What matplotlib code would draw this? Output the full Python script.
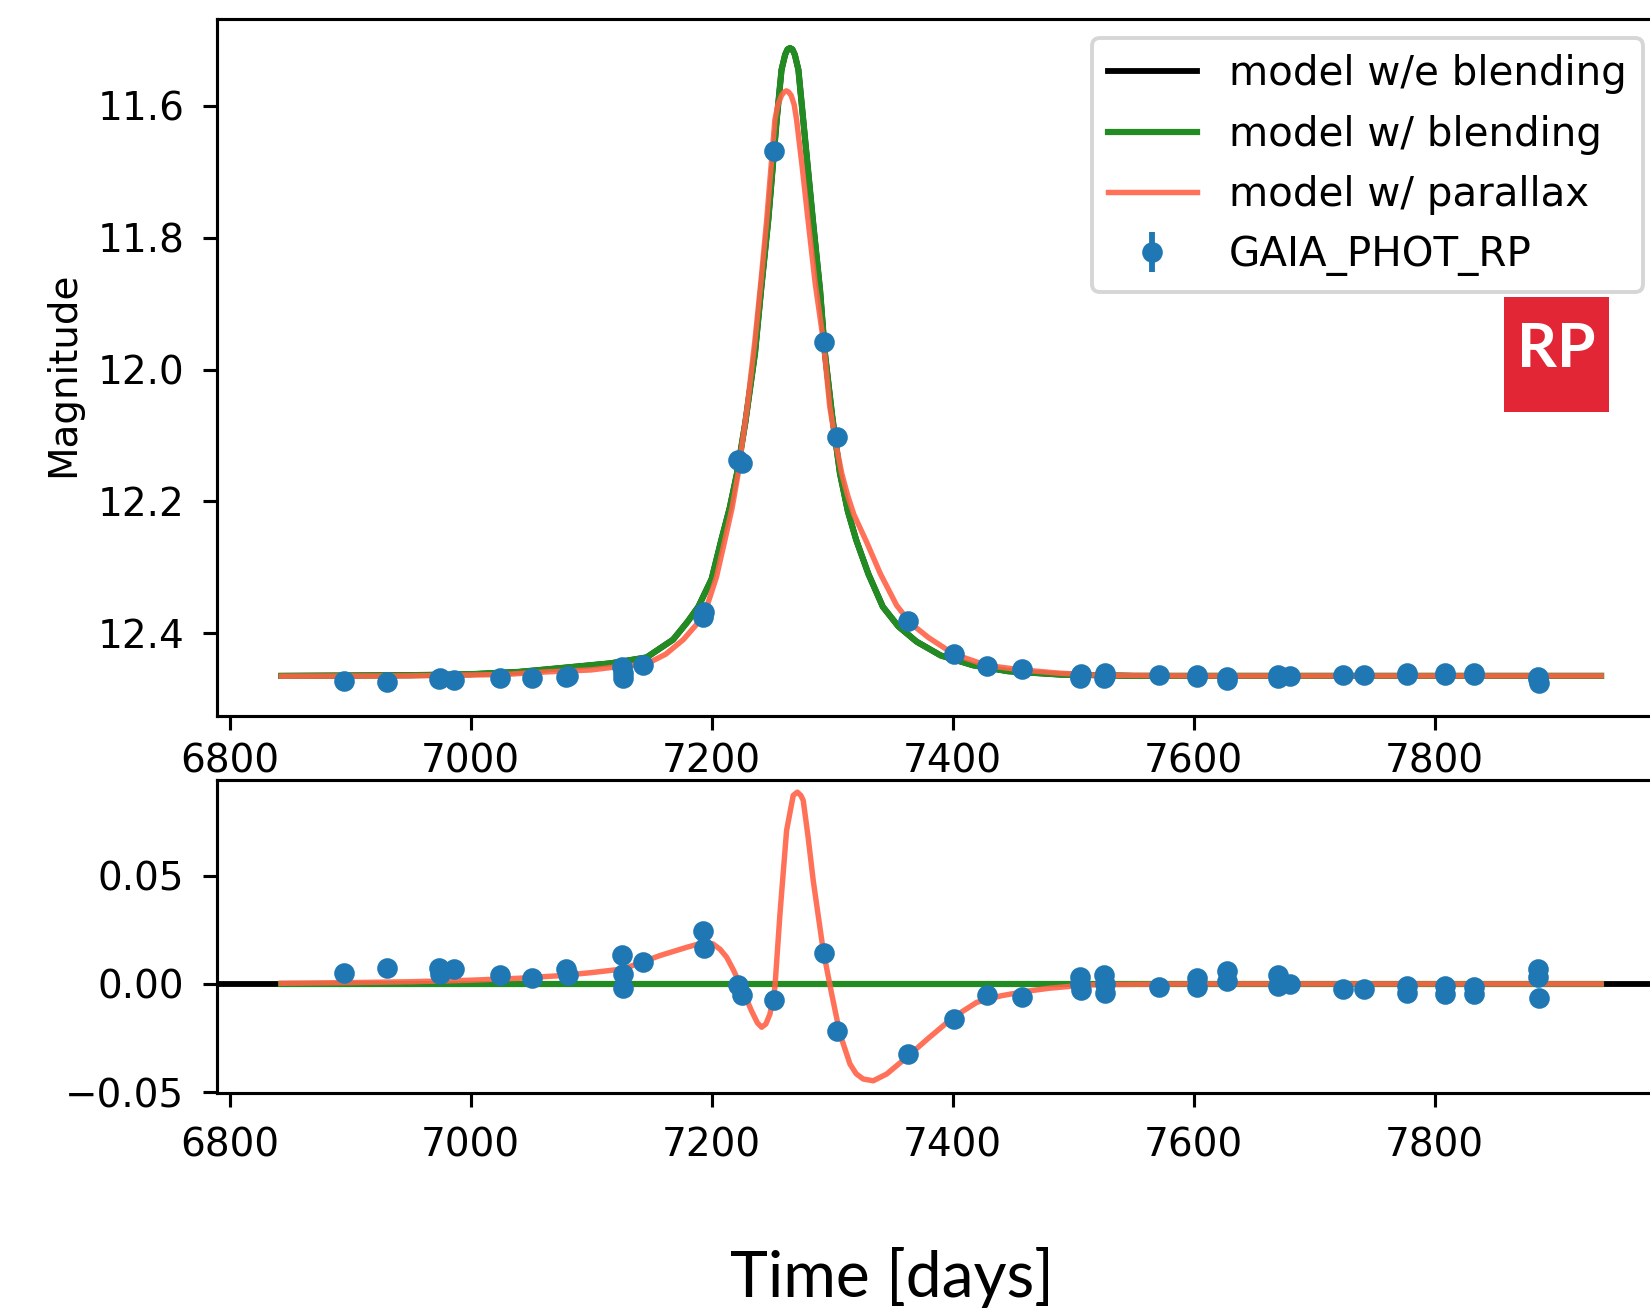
import numpy as np
import matplotlib
matplotlib.use("Agg")
import matplotlib.pyplot as plt
from matplotlib.ticker import MultipleLocator
from matplotlib.patches import Rectangle

# --- data ---
# GAIA RP photometry: time [days], magnitude, residual to the no-blending model
obs_t = [6895.2, 6930.4, 6973.5, 6974.5, 6986.4, 7024.6, 7051.2, 7079.5, 7080.5,
         7125.8, 7126.2, 7126.6, 7143.3, 7193.0, 7193.4, 7222.0, 7225.6, 7251.7,
         7293.0, 7304.3, 7363.2, 7401.5, 7428.4, 7457.6, 7505.5, 7505.8, 7506.1,
         7525.7, 7526.0, 7526.3, 7571.0, 7602.4, 7602.8, 7627.2, 7627.5, 7669.9,
         7670.3, 7680.2, 7723.8, 7740.9, 7776.8, 7777.2, 7808.4, 7808.8, 7832.2,
         7832.6, 7885.7, 7886.0, 7886.3]
obs_mag = [12.473, 12.475, 12.470, 12.468, 12.471, 12.468, 12.468, 12.467, 12.465,
           12.452, 12.460, 12.468, 12.449, 12.376, 12.368, 12.137, 12.142, 11.668,
           11.958, 12.102, 12.381, 12.432, 12.450, 12.455, 12.468, 12.465, 12.462,
           12.469, 12.465, 12.461, 12.464, 12.467, 12.463, 12.471, 12.466, 12.469,
           12.464, 12.465, 12.463, 12.463, 12.464, 12.461, 12.464, 12.461, 12.464,
           12.461, 12.466, 12.470, 12.476]
obs_res = [0.0049, 0.0072, 0.0075, 0.0045, 0.0068, 0.0042, 0.0026, 0.0070, 0.0040,
           0.0134, 0.0045, -0.0020, 0.0103, 0.0242, 0.0165, -0.0005, -0.0051, -0.0074,
           0.0142, -0.0219, -0.0323, -0.0160, -0.0049, -0.0061, 0.0030, 0.0000, -0.0030,
           0.0040, 0.0000, -0.0040, -0.0015, 0.0025, -0.0015, 0.0059, 0.0013, 0.0040,
           -0.0010, 0.0000, -0.0023, -0.0023, -0.0010, -0.0040, -0.0010, -0.0045, -0.0015,
           -0.0045, 0.0070, 0.0030, -0.0066]
obs_err = 0.012

# model with blending (the no-blending model lies exactly underneath it)
blend_t = [6843, 6950, 7000, 7040, 7070, 7116, 7146, 7168, 7180, 7189, 7200, 7208, 7215,
           7221, 7228, 7236, 7241, 7247, 7254, 7258, 7261, 7263, 7265, 7267, 7269, 7272,
           7276, 7284, 7290, 7294, 7300, 7306.5, 7313, 7320, 7330, 7342, 7355, 7370,
           7390, 7417, 7446, 7489, 7550, 7938]
blend_mag = [12.465, 12.464, 12.4625, 12.459, 12.454, 12.446, 12.437, 12.410, 12.383,
             12.360, 12.318, 12.259, 12.210, 12.158, 12.080, 11.975, 11.880, 11.773,
             11.621, 11.545, 11.522, 11.514, 11.512, 11.514, 11.522, 11.545, 11.621,
             11.773, 11.880, 11.975, 12.070, 12.158, 12.215, 12.259, 12.310, 12.360,
             12.390, 12.413, 12.434, 12.449, 12.458, 12.463, 12.465, 12.465]

# model with parallax
plx_t = [6843, 6950, 7027, 7063, 7100, 7118, 7146, 7162, 7176.5, 7187, 7196, 7204,
         7211, 7217, 7222, 7229.6, 7236, 7241, 7245.7, 7252.5, 7255, 7258, 7260, 7262,
         7264, 7266, 7268.5, 7270.5, 7275, 7280, 7286, 7292.6, 7298, 7303, 7308, 7313,
         7318, 7328.6, 7340, 7353.5, 7365, 7380, 7401, 7428, 7457, 7489, 7520, 7600,
         7938]
plx_mag = [12.4655, 12.465, 12.463, 12.459, 12.456, 12.452, 12.447, 12.432, 12.410,
           12.388, 12.360, 12.315, 12.259, 12.210, 12.158, 12.056, 11.955, 11.865,
           11.773, 11.621, 11.598, 11.584, 11.579, 11.577, 11.579, 11.584, 11.598,
           11.621, 11.690, 11.773, 11.870, 11.955, 12.056, 12.112, 12.158, 12.192,
           12.220, 12.262, 12.310, 12.358, 12.385, 12.407, 12.432, 12.449, 12.456,
           12.461, 12.464, 12.465, 12.465]

# parallax model minus no-blending model (lower panel)
plx_res_t = [6843, 6900, 6950, 7000, 7040, 7074, 7100, 7126.7, 7157.2, 7180, 7193,
             7201, 7207, 7212.5, 7218, 7223.5, 7233, 7238, 7241.5, 7245, 7248.4,
             7250.5, 7252.5, 7256.7, 7262.2, 7267.7, 7271.1, 7274, 7276, 7280, 7284.3,
             7292.6, 7299.6, 7306.5, 7314.8, 7320, 7325.8, 7334.1, 7345.2, 7361.8,
             7380, 7400.5, 7420, 7440, 7460, 7480, 7500, 7520, 7600, 7938]
plx_res = [0.0003, 0.0006, 0.0010, 0.0017, 0.0026, 0.0038, 0.0052, 0.0069, 0.0131,
           0.0170, 0.0190, 0.0185, 0.0160, 0.0123, 0.0065, 0.0000, -0.0123, -0.0180,
           -0.0200, -0.0185, -0.0139, -0.0080, -0.0016, 0.0323, 0.0708, 0.0870,
           0.0885, 0.0870, 0.0847, 0.0680, 0.0477, 0.0154, -0.0046, -0.0231, -0.0370,
           -0.0415, -0.0439, -0.0447, -0.0416, -0.0339, -0.0250, -0.0154, -0.0085,
           -0.0055, -0.0035, -0.0020, -0.0010, -0.0003, 0.0, 0.0]
blend_res_t = [6843, 7938]
blend_res = [0.0, 0.0]

c_blend = "forestgreen"
c_plx = "tomato"
c_obs = "#1f77b4"

fig = plt.figure(figsize=(1650 / 280, 1313 / 280), dpi=280)
ax1 = fig.add_axes([0.1318, 0.4549, 0.8802, 0.5306])
ax2 = fig.add_axes([0.1318, 0.1673, 0.8802, 0.2383])

# top panel: light curve
h_noblend, = ax1.plot(blend_t, blend_mag, color="k", lw=1.5, label="model w/e blending")
h_blend, = ax1.plot(blend_t, blend_mag, color=c_blend, lw=1.6, label="model w/ blending")
h_plx, = ax1.plot(plx_t, plx_mag, color=c_plx, lw=1.4, alpha=0.9, label="model w/ parallax")
h_obs = ax1.errorbar(obs_t, obs_mag, yerr=obs_err, fmt="o", ms=4.3, color=c_obs,
                     elinewidth=1.5, label="GAIA_PHOT_RP", zorder=5)
ax1.set_xlim(6790, 7995)
ax1.set_ylim(12.5255, 11.468)
ax1.yaxis.set_major_locator(MultipleLocator(0.2))
ax1.xaxis.set_major_locator(MultipleLocator(200))
ax1.set_ylabel("Magnitude")
ax1.yaxis.set_label_coords(-0.093, 0.49)
ax1.tick_params(axis="y", pad=5)
ax1.legend(handles=[h_noblend, h_blend, h_plx, h_obs], loc="upper right",
           bbox_to_anchor=(1643 / 1650, 1 - 38.3 / 1313), bbox_transform=fig.transFigure,
           borderaxespad=0, handlelength=2.2, fontsize=10.4, labelspacing=0.5)

# bottom panel: residuals
ax2.axhline(0, color="k", lw=1.5)
ax2.plot(blend_res_t, blend_res, color=c_blend, lw=1.6)
ax2.plot(plx_res_t, plx_res, color=c_plx, lw=1.4, alpha=0.9)
ax2.plot(obs_t, obs_res, "o", ms=4.3, color=c_obs, zorder=5)
ax2.set_xlim(6790, 7995)
ax2.set_ylim(-0.0505, 0.0939)
ax2.yaxis.set_major_locator(MultipleLocator(0.05))
ax2.xaxis.set_major_locator(MultipleLocator(200))
ax2.tick_params(axis="y", pad=5)
ax2.tick_params(axis="x", pad=5)

# band marker box
fig.add_artist(Rectangle((0.9114, 0.6864), 0.0638, 0.0876, transform=fig.transFigure,
                         facecolor="#E32636", edgecolor="none"))
fig.text(0.9433, 0.7342, "RP", color="white", fontsize=16, fontweight="bold",
         family=["Lato", "DejaVu Sans"], ha="center", va="center")

fig.text(0.5406, 0.0124, "Time [days]", fontsize=16.5, family=["Lato", "DejaVu Sans"],
         ha="center", va="baseline")

fig.savefig("out.png", dpi=280)
